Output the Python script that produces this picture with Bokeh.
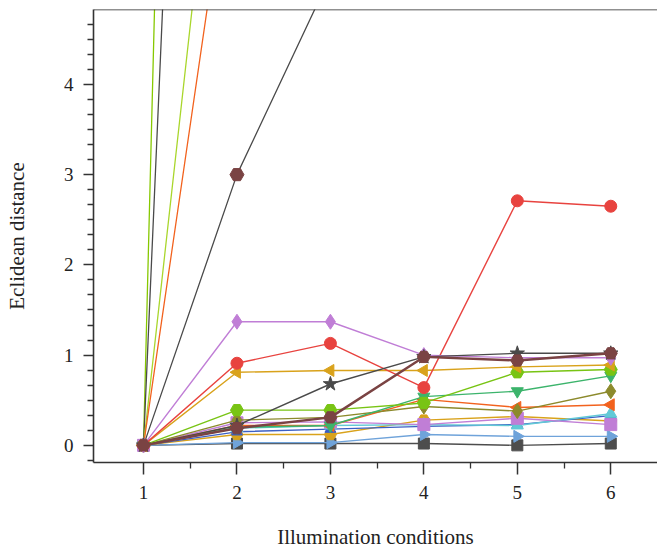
import math
from bokeh.plotting import figure
from bokeh.models import Range1d, Span, FixedTicker
from bokeh.embed import file_html
from bokeh.resources import INLINE

# ---- data ----
conditions = [1, 2, 3, 4, 5, 6]
x_tick_labels = ["1", "2", "3", "4", "5", "6"]
y_ticks = [0, 1, 2, 3, 4]

steep_lime = [0, 41.0, 40.0, 42.0, 41.0, 40.0]
steep_gray = [0, 23.7, 24.0, 23.0, 24.0, 23.5]
steep_green = [0, 9.3, 9.5, 9.0, 9.4, 9.2]
steep_orange = [0, 7.1, 7.3, 7.0, 7.2, 7.1]
gray_hex = [0, 3.0, 5.2, 6.0, 6.3, 6.5]
gray_square = [0, 0.02, 0.02, 0.02, 0.00, 0.02]
blue_right = [0, 0.03, 0.03, 0.12, 0.10, 0.10]
gold_hex = [0, 0.12, 0.12, 0.28, 0.32, 0.27]
royal_blue = [0, 0.15, 0.18, 0.21, 0.23, 0.33]
cyan_up = [0, 0.19, 0.22, 0.23, 0.22, 0.35]
purple_square = [0, 0.25, 0.26, 0.23, 0.30, 0.23]
orange_left = [0, 0.22, 0.22, 0.51, 0.42, 0.45]
olive_diamond = [0, 0.28, 0.31, 0.43, 0.38, 0.60]
green_down = [0, 0.20, 0.22, 0.54, 0.60, 0.77]
lime_hex = [0, 0.39, 0.39, 0.47, 0.81, 0.84]
gold_left = [0, 0.81, 0.83, 0.83, 0.87, 0.89]
red_circle = [0, 0.91, 1.13, 0.64, 2.71, 2.65]
purple_diamond = [0, 1.37, 1.37, 1.00, 0.97, 0.97]
gray_star = [0, 0.22, 0.68, 0.98, 1.02, 1.02]
brown_hex = [0, 0.19, 0.31, 0.98, 0.94, 1.02]

# (values, line colour, marker colour, marker, angle, size, line width)
series = [
    (steep_lime, "#86c800", "#86c800", "circle", 0, 9, 1.3),
    (steep_gray, "#4a4a4a", "#4a4a4a", "circle", 0, 9, 1.3),
    (steep_green, "#a9d62c", "#a9d62c", "circle", 0, 9, 1.3),
    (steep_orange, "#f2621e", "#f2621e", "circle", 0, 9, 1.3),
    (gray_hex, "#4a4a4a", "#7a4343", "hex", 0, 14, 1.3),
    (gray_square, "#4d4d4d", "#4d4d4d", "square", 0, 11, 1.4),
    (blue_right, "#6fa3da", "#6fa3da", "triangle", -math.pi / 2, 12, 1.4),
    (gold_hex, "#d9a21b", "#d9a21b", "hex", 0, 12, 1.4),
    (royal_blue, "#3b5fc4", "#3b5fc4", "triangle", 0, 11, 1.4),
    (cyan_up, "#62c9d6", "#62c9d6", "triangle", 0, 12, 1.4),
    (purple_square, "#c07ed6", "#c07ed6", "square", 0, 12, 1.4),
    (orange_left, "#f2621e", "#f2621e", "triangle", math.pi / 2, 12, 1.4),
    (olive_diamond, "#8c8a2c", "#8c8a2c", "diamond", 0, 15, 1.4),
    (green_down, "#3cb46c", "#3cb46c", "inverted_triangle", 0, 12, 1.4),
    (lime_hex, "#78c414", "#78c414", "hex", 0, 13, 1.4),
    (gold_left, "#d9a21b", "#d9a21b", "triangle", math.pi / 2, 12, 1.4),
    (red_circle, "#e8433f", "#e8433f", "circle", 0, 12, 1.4),
    (purple_diamond, "#c07ed6", "#c07ed6", "diamond", 0, 15, 1.4),
    (gray_star, "#4a4a4a", "#4a4a4a", "star", 0, 15, 1.4),
    (brown_hex, "#7a4343", "#7a4343", "hex", 0, 13, 2.4),
]

p = figure(width=657, height=551, output_backend="svg", toolbar_location=None,
           x_range=Range1d(0.465, 6.5), y_range=Range1d(-0.19, 4.83),
           min_border_left=93, min_border_right=0, min_border_top=9,
           min_border_bottom=89)
p.outline_line_color = None
p.grid.visible = False
p.background_fill_color = "white"
p.border_fill_color = "white"

for vals, lc, mc, mk, ang, sz, lw in series:
    p.line(conditions, vals, line_color=lc, line_width=lw)
    p.scatter(conditions, vals, marker=mk, angle=ang, size=sz,
              fill_color=mc, line_color=mc)

p.add_layout(Span(location=4.83, dimension="width", line_color="#222222",
                  line_width=1.6))

p.xaxis.ticker = FixedTicker(ticks=conditions,
                             minor_ticks=[1.5, 2.5, 3.5, 4.5, 5.5])
p.xaxis.major_label_overrides = {c: t for c, t in zip(conditions, x_tick_labels)}
p.yaxis.ticker = FixedTicker(ticks=y_ticks,
                             minor_ticks=[k / 6 for k in range(-1, 29) if k % 6 != 0])

p.xaxis.axis_label = "Illumination conditions"
p.yaxis.axis_label = "Eclidean distance"

for ax in (p.xaxis, p.yaxis):
    ax.axis_line_color = "#333333"
    ax.axis_line_width = 1.6
    ax.major_tick_line_color = "#333333"
    ax.major_tick_line_width = 1.5
    ax.minor_tick_line_color = "#333333"
    ax.minor_tick_line_width = 1.3
    ax.major_tick_in = 0
    ax.minor_tick_in = 0
    ax.minor_tick_out = 6
    ax.major_label_text_font = "Liberation Serif"
    ax.major_label_text_font_size = "19px"
    ax.major_label_text_color = "#222222"
    ax.axis_label_text_font = "Liberation Serif"
    ax.axis_label_text_font_size = "21px"
    ax.axis_label_text_font_style = "normal"
    ax.axis_label_text_color = "#222222"

p.xaxis.major_tick_out = 12
p.yaxis.major_tick_out = 10
p.xaxis.major_label_standoff = 11
p.yaxis.major_label_standoff = 10
p.xaxis.axis_label_standoff = 23
p.yaxis.axis_label_standoff = 32

open("out.html", "w").write(file_html(p, INLINE))
